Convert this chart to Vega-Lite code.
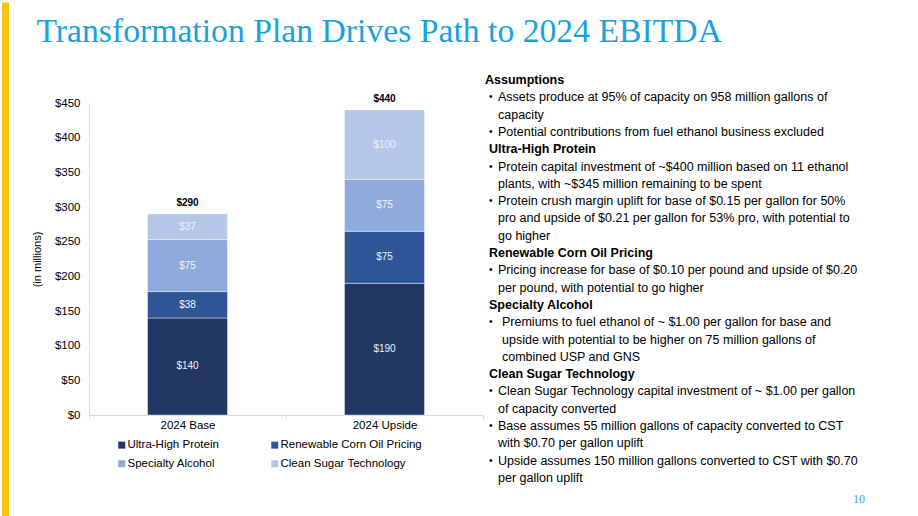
{
  "$schema": "https://vega.github.io/schema/vega-lite/v6.json",
  "padding": 0,
  "background": "white",
  "spacing": 80,
  "bounds": "flush",
  "config": {
    "view": {"stroke": null},
    "font": "Liberation Sans",
    "axis": {"labelFont": "Liberation Sans", "titleFont": "Liberation Sans", "labelColor": "#000000", "titleColor": "#000000"},
    "legend": {"labelFont": "Liberation Sans", "labelColor": "#000000"}
  },
  "hconcat": [
    {
      "width": 7,
      "height": 415,
      "data": {"values": [{"strip": "accent"}]},
      "mark": {"type": "rect", "color": "#FFC20E"},
      "encoding": {
        "x": {
          "field": "strip",
          "type": "nominal",
          "scale": {"paddingInner": 0, "paddingOuter": 0},
          "axis": {
            "orient": "top",
            "title": null,
            "labels": false,
            "domain": false,
            "ticks": true,
            "tickColor": "#FFC20E",
            "tickWidth": 7,
            "tickSize": 97.5,
            "tickCap": "square"
          }
        }
      }
    },
    {
      "title": {
        "text": ["", "Transformation Plan Drives Path to 2024 EBITDA"],
        "anchor": "start",
        "font": "Liberation Serif",
        "fontSize": 33.7,
        "fontWeight": "normal",
        "color": "#1BA1DD",
        "lineHeight": 6,
        "dx": 5,
        "offset": 25
      },
      "bounds": "flush",
      "spacing": 6,
      "resolve": {"scale": {"color": "independent"}},
      "hconcat": [
        {
          "width": 394,
          "height": 312,
          "data": {
            "values": [
              {"scenario": "2024 Base", "driver": "Ultra-High Protein", "seg": 1, "v": 140},
              {"scenario": "2024 Base", "driver": "Renewable Corn Oil Pricing", "seg": 2, "v": 38},
              {"scenario": "2024 Base", "driver": "Specialty Alcohol", "seg": 3, "v": 75},
              {"scenario": "2024 Base", "driver": "Clean Sugar Technology", "seg": 4, "v": 37},
              {"scenario": "2024 Upside", "driver": "Ultra-High Protein", "seg": 1, "v": 190},
              {"scenario": "2024 Upside", "driver": "Renewable Corn Oil Pricing", "seg": 2, "v": 75},
              {"scenario": "2024 Upside", "driver": "Specialty Alcohol", "seg": 3, "v": 75},
              {"scenario": "2024 Upside", "driver": "Clean Sugar Technology", "seg": 4, "v": 100}
            ]
          },
          "encoding": {
            "x": {
              "field": "scenario",
              "type": "nominal",
              "sort": ["2024 Base", "2024 Upside"],
              "scale": {"paddingInner": 0, "paddingOuter": 0},
              "axis": {
                "title": null,
                "labelAngle": 0,
                "labelFontSize": 11.5,
                "labelPadding": 0,
                "tickBand": "extent",
                "tickColor": "#D9D9D9",
                "tickSize": 4,
                "domainColor": "#D9D9D9"
              }
            }
          },
          "layer": [
            {
              "mark": {"type": "bar", "width": {"band": 0.406}, "stroke": "#FFFFFF", "strokeWidth": 0.7, "strokeOpacity": 0.6},
              "encoding": {
                "y": {
                  "field": "v",
                  "type": "quantitative",
                  "stack": "zero",
                  "scale": {"domain": [0, 450], "nice": false},
                  "axis": {
                    "title": "(in millions)",
                    "titleFontSize": 11,
                    "titleFontWeight": "normal",
                    "titlePadding": 12,
                    "labelFontSize": 11.5,
                    "labelPadding": 9,
                    "labelOverlap": false,
                    "ticks": false,
                    "grid": false,
                    "domainColor": "#D9D9D9",
                    "values": [0, 50, 100, 150, 200, 250, 300, 350, 400, 450],
                    "format": "$.0f"
                  }
                },
                "color": {
                  "field": "driver",
                  "type": "nominal",
                  "scale": {
                    "domain": ["Ultra-High Protein", "Renewable Corn Oil Pricing", "Specialty Alcohol", "Clean Sugar Technology"],
                    "range": ["#223763", "#2F5597", "#8FAADC", "#B4C7E7"]
                  },
                  "legend": {
                    "orient": "none",
                    "legendX": 27,
                    "legendY": 336,
                    "direction": "horizontal",
                    "columns": 2,
                    "title": null,
                    "symbolType": "square",
                    "symbolSize": 49,
                    "symbolStrokeWidth": 0,
                    "labelFontSize": 11.5,
                    "labelOffset": 0,
                    "columnPadding": 50,
                    "rowPadding": 6
                  }
                },
                "order": {"field": "seg", "type": "quantitative"}
              }
            },
            {
              "mark": {"type": "text", "fontSize": 10, "color": "#EEF2F9", "baseline": "middle"},
              "encoding": {
                "y": {
                  "field": "v",
                  "type": "quantitative",
                  "stack": "zero",
                  "bandPosition": 0.5,
                  "axis": {
                    "title": "(in millions)",
                    "titleFontSize": 11,
                    "titleFontWeight": "normal",
                    "titlePadding": 12,
                    "labelFontSize": 11.5,
                    "labelPadding": 9,
                    "labelOverlap": false,
                    "ticks": false,
                    "grid": false,
                    "domainColor": "#D9D9D9",
                    "values": [0, 50, 100, 150, 200, 250, 300, 350, 400, 450],
                    "format": "$.0f"
                  }
                },
                "detail": {"field": "driver", "type": "nominal"},
                "order": {"field": "seg", "type": "quantitative"},
                "text": {"field": "v", "type": "quantitative", "format": "$.0f"}
              }
            },
            {
              "mark": {"type": "text", "fontSize": 10, "fontWeight": "bold", "color": "#000000", "baseline": "middle", "dy": -11},
              "encoding": {
                "y": {
                  "aggregate": "sum",
                  "field": "v",
                  "type": "quantitative",
                  "axis": {
                    "title": "(in millions)",
                    "titleFontSize": 11,
                    "titleFontWeight": "normal",
                    "titlePadding": 12,
                    "labelFontSize": 11.5,
                    "labelPadding": 9,
                    "labelOverlap": false,
                    "ticks": false,
                    "grid": false,
                    "domainColor": "#D9D9D9",
                    "values": [0, 50, 100, 150, 200, 250, 300, 350, 400, 450],
                    "format": "$.0f"
                  }
                },
                "text": {"aggregate": "sum", "field": "v", "type": "quantitative", "format": "$.0f"}
              }
            }
          ]
        },
        {
          "width": 376,
          "height": 312,
          "title": {
            "text": "10",
            "orient": "bottom",
            "anchor": "end",
            "frame": "group",
            "font": "Liberation Serif",
            "fontSize": 12,
            "fontWeight": "normal",
            "color": "#29ABE2",
            "offset": 10
          },
          "data": {
            "values": [
              {"line": 0, "kind": "h0", "text": "Assumptions"},
              {"line": 1, "kind": "b", "text": "Assets produce at 95% of capacity on 958 million gallons of"},
              {"line": 2, "kind": "c", "text": "capacity"},
              {"line": 3, "kind": "b", "text": "Potential contributions from fuel ethanol business excluded"},
              {"line": 4, "kind": "h", "text": "Ultra-High Protein"},
              {"line": 5, "kind": "b", "text": "Protein capital investment of ~$400 million based on 11 ethanol"},
              {"line": 6, "kind": "c", "text": "plants, with ~$345 million remaining to be spent"},
              {"line": 7, "kind": "b", "text": "Protein crush margin uplift for base of $0.15 per gallon for 50%"},
              {"line": 8, "kind": "c", "text": "pro and upside of $0.21 per gallon for 53% pro, with potential to"},
              {"line": 9, "kind": "c", "text": "go higher"},
              {"line": 10, "kind": "h", "text": "Renewable Corn Oil Pricing"},
              {"line": 11, "kind": "b", "text": "Pricing increase for base of $0.10 per pound and upside of $0.20"},
              {"line": 12, "kind": "c", "text": "per pound, with potential to go higher"},
              {"line": 13, "kind": "h", "text": "Specialty Alcohol"},
              {"line": 14, "kind": "b2", "text": "Premiums to fuel ethanol of ~ $1.00 per gallon for base and"},
              {"line": 15, "kind": "c2", "text": "upside with potential to be higher on 75 million gallons of"},
              {"line": 16, "kind": "c2", "text": "combined USP and GNS"},
              {"line": 17, "kind": "h", "text": "Clean Sugar Technology"},
              {"line": 18, "kind": "b", "text": "Clean Sugar Technology capital investment of ~ $1.00 per gallon"},
              {"line": 19, "kind": "c", "text": "of capacity converted"},
              {"line": 20, "kind": "b", "text": "Base assumes 55 million gallons of capacity converted to CST"},
              {"line": 21, "kind": "c", "text": "with $0.70 per gallon uplift"},
              {"line": 22, "kind": "b", "text": "Upside assumes 150 million gallons converted to CST with $0.70"},
              {"line": 23, "kind": "c", "text": "per gallon uplift"}
            ]
          },
          "encoding": {
            "x": {"datum": 0, "type": "quantitative", "scale": {"domain": [0, 1]}, "axis": null},
            "y": {"field": "line", "type": "quantitative", "scale": {"domain": [1.329, 19.36], "reverse": true, "nice": false, "zero": false}, "axis": null}
          },
          "layer": [
            {
              "transform": [{"filter": {"field": "kind", "equal": "h0"}}],
              "mark": {"type": "text", "align": "left", "baseline": "middle", "fontSize": 12.5, "fontWeight": "bold", "color": "#000000", "dx": -4},
              "encoding": {"text": {"field": "text"}}
            },
            {
              "transform": [{"filter": {"field": "kind", "equal": "h"}}],
              "mark": {"type": "text", "align": "left", "baseline": "middle", "fontSize": 12.5, "fontWeight": "bold", "color": "#000000"},
              "encoding": {"text": {"field": "text"}}
            },
            {
              "transform": [{"filter": {"field": "kind", "oneOf": ["b", "b2"]}}],
              "mark": {"type": "text", "align": "left", "baseline": "middle", "fontSize": 10, "color": "#000000"},
              "encoding": {"text": {"value": "•"}}
            },
            {
              "transform": [{"filter": {"field": "kind", "oneOf": ["b", "c"]}}],
              "mark": {"type": "text", "align": "left", "baseline": "middle", "fontSize": 12.5, "color": "#000000", "dx": 9},
              "encoding": {"text": {"field": "text"}}
            },
            {
              "transform": [{"filter": {"field": "kind", "oneOf": ["b2", "c2"]}}],
              "mark": {"type": "text", "align": "left", "baseline": "middle", "fontSize": 12.5, "color": "#000000", "dx": 13},
              "encoding": {"text": {"field": "text"}}
            }
          ]
        }
      ]
    }
  ]
}
